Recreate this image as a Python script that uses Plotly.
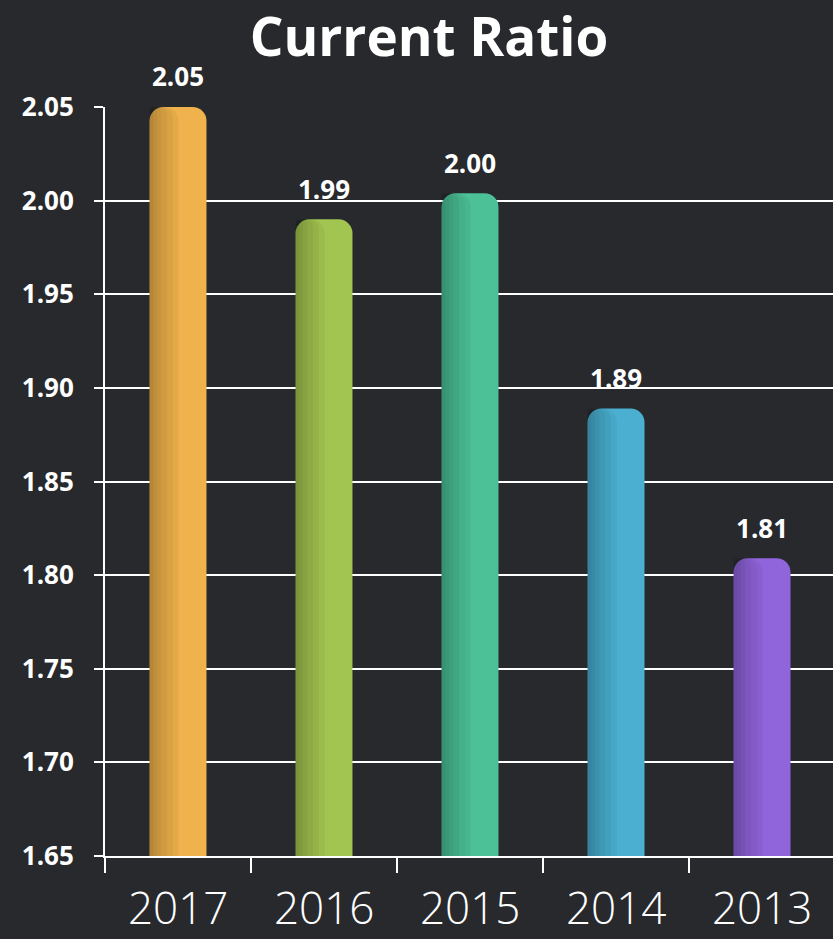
import plotly.graph_objects as go

years = ["2017", "2016", "2015", "2014", "2013"]
ratios = [2.05, 1.99, 2.004, 1.889, 1.809]
labels = ["2.05", "1.99", "2.00", "1.89", "1.81"]
colors = ["#F0B24C", "#A2C450", "#4CC096", "#4AAFD0", "#9064DA"]
y_ticks = [1.65, 1.70, 1.75, 1.80, 1.85, 1.90, 1.95, 2.00, 2.05]

FONT = "Open Sans"
BAR_W = 0.39

fig = go.Figure()
fig.add_trace(go.Bar(
    x=years, y=ratios,
    marker=dict(color=colors, line=dict(width=0), cornerradius=14),
    width=BAR_W,
    hoverinfo="skip",
))
# soft darker shading on the left side of each bar
for w in [0.20, 0.16, 0.12, 0.08, 0.05, 0.025]:
    fig.add_trace(go.Bar(
        x=years, y=ratios,
        marker=dict(color="rgba(0,0,0,0.045)", line=dict(width=0),
                    cornerradius=min(14, int(w * 146 / 2))),
        width=w, offset=-BAR_W / 2,
        hoverinfo="skip",
    ))

# value labels (drawn in the trace layer so gridlines pass over them)
fig.add_trace(go.Scatter(
    x=years, y=ratios, mode="markers+text",
    text=labels, textposition="top center",
    marker=dict(size=21, opacity=0),
    textfont=dict(family=FONT, size=26, color="white", weight="bold"),
    hoverinfo="skip", cliponaxis=False,
))

for i, yr in enumerate(years):
    fig.add_annotation(
        x=i, y=0, yref="paper", text=yr, showarrow=False,
        yanchor="top", yshift=-19,
        font=dict(family=FONT, size=44, color="white", weight=300),
    )

fig.update_layout(
    width=833, height=939,
    paper_bgcolor="#27292d",
    plot_bgcolor="rgba(0,0,0,0)",
    margin=dict(l=105, r=0, t=107, b=83),
    showlegend=False,
    barmode="overlay",
    title=dict(
        text="<b>Current Ratio</b>", x=0.515, xanchor="center",
        y=0.9605, yanchor="middle",
        font=dict(family=FONT, size=53, color="white"),
    ),
)

fig.update_yaxes(
    range=[1.65, 2.05], tickvals=y_ticks,
    ticktext=[f"{t:.2f}" for t in y_ticks],
    showgrid=True, gridcolor="white", gridwidth=2,
    showline=True, linecolor="white", linewidth=2,
    ticks="outside", ticklen=9, tickcolor="white", tickwidth=2,
    tickfont=dict(family=FONT, size=26, color="white", weight="bold"),
    ticklabelstandoff=15,
    zeroline=False, layer="above traces",
)
fig.update_xaxes(
    type="category",
    range=[-0.5, 4.486],
    showline=True, linecolor="white", linewidth=2,
    ticks="outside", ticklen=15, tickcolor="white", tickwidth=2,
    tickmode="array", tickvals=[-0.5, 0.5, 1.5, 2.5, 3.5],
    ticktext=["", "", "", "", ""],
    showgrid=False, zeroline=False,
)

fig.write_html("out.html", config={"displayModeBar": False},
               post_script="document.body.style.margin='0';")
